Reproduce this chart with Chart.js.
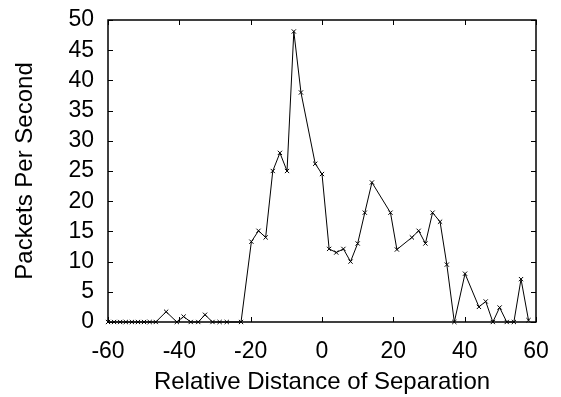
<!DOCTYPE html>
<html>
<head>
<meta charset="utf-8">
<script src="https://cdn.jsdelivr.net/npm/chart.js@4.4.0/dist/chart.umd.min.js"></script>
<style>
  html, body { margin: 0; padding: 0; background: #fff; }
  #wrap { width: 561px; height: 397px; }
</style>
</head>
<body>
<div id="wrap"><canvas id="plot"></canvas></div>
<script>
// separation (x) and packets per second (y)
const separation = [-60, -58.3, -56.6, -55, -53.3, -51.6, -49.9, -48.3, -46.6, -43.7,
    -40.7, -38.8, -36.8, -34.7, -32.8, -30.7, -28.7, -26.7, -22.7,
    -19.8, -17.8, -15.8, -13.8, -11.8, -9.8, -7.9, -5.9, -1.9, 0,
    2, 4, 6, 8, 10, 12, 14, 19.2, 21, 25.2, 27.1, 29, 31, 33.1, 35, 37.1,
    40.1, 44, 45.9, 47.9, 49.8, 51.8, 53.8, 55.8, 57.9];
const packets = [0, 0, 0, 0, 0, 0, 0, 0, 0, 1.7,
    0, 0.9, 0, 0, 1.2, 0, 0, 0, 0,
    13.3, 15.1, 14.0, 25.0, 28.0, 25.0, 48.1, 38.0, 26.2, 24.5,
    12.1, 11.5, 12.1, 10.0, 13.0, 18.1, 23.1, 18.1, 12.0, 14.0, 15.1, 13.0, 18.1, 16.6, 9.5, 0,
    8.0, 2.5, 3.4, 0, 2.4, 0, 0, 7.1, 0.3];
const xTicks = [-60, -40, -20, 0, 20, 40, 60];
const yTicks = [0, 5, 10, 15, 20, 25, 30, 35, 40, 45, 50];

const tickFont = { family: 'Liberation Sans, Arial, sans-serif', size: 23 };
const titleFont = { family: 'Liberation Sans, Arial, sans-serif', size: 24 };

// gnuplot-like frame with inward ticks on all four sides
const frame = {
    id: 'frame',
    afterDraw(chart) {
        const c = chart.ctx, a = chart.chartArea;
        const xs = chart.scales.x, ys = chart.scales.y;
        const len = 5;
        c.save();
        c.strokeStyle = '#000';
        c.lineWidth = 1;
        c.beginPath();
        xTicks.forEach(v => {
            const px = Math.round(xs.getPixelForValue(v)) + 0.5;
            c.moveTo(px, a.bottom); c.lineTo(px, a.bottom - len);
            c.moveTo(px, a.top); c.lineTo(px, a.top + len);
        });
        yTicks.forEach(v => {
            const py = Math.round(ys.getPixelForValue(v)) + 0.5;
            c.moveTo(a.left, py); c.lineTo(a.left + len, py);
            c.moveTo(a.right, py); c.lineTo(a.right - len, py);
        });
        c.stroke();
        c.lineWidth = 1.5;
        c.strokeRect(a.left, a.top, a.right - a.left, a.bottom - a.top);
        c.restore();
    }
};

new Chart(document.getElementById('plot'), {
    type: 'scatter',
    data: {
        datasets: [{
            data: separation.map((x, i) => ({ x: x, y: packets[i] })),
            showLine: true,
            borderColor: '#000',
            borderWidth: 1,
            pointStyle: 'crossRot',
            pointRadius: 3,
            pointBorderColor: '#000',
            pointBorderWidth: 1,
            clip: false
        }]
    },
    options: {
        responsive: true,
        maintainAspectRatio: false,
        animation: false,
        layout: { padding: { top: 20, right: 25, left: 0, bottom: 0 } },
        plugins: { legend: { display: false }, tooltip: { enabled: false } },
        scales: {
            x: {
                type: 'linear',
                min: -60, max: 60,
                grid: { display: false, drawTicks: false },
                border: { display: false },
                afterBuildTicks: s => { s.ticks = xTicks.map(v => ({ value: v })); },
                afterFit: s => { s.height = 75; s.paddingLeft = 0; s.paddingRight = 0; },
                ticks: { color: '#000', font: tickFont, padding: 16, maxRotation: 0, autoSkip: false },
                title: { display: true, text: 'Relative Distance of Separation', color: '#000', font: titleFont, padding: { top: 0, bottom: 0 } }
            },
            y: {
                min: 0, max: 50,
                grid: { display: false, drawTicks: false },
                border: { display: false },
                afterBuildTicks: s => { s.ticks = yTicks.map(v => ({ value: v })); },
                afterFit: s => { s.width = 108; s.paddingTop = 0; s.paddingBottom = 0; },
                ticks: { color: '#000', font: tickFont, padding: 14, autoSkip: false },
                title: { display: true, text: 'Packets Per Second', color: '#000', font: titleFont, padding: { top: 10.5, bottom: 0 } }
            }
        }
    },
    plugins: [frame]
});
</script>
</body>
</html>
